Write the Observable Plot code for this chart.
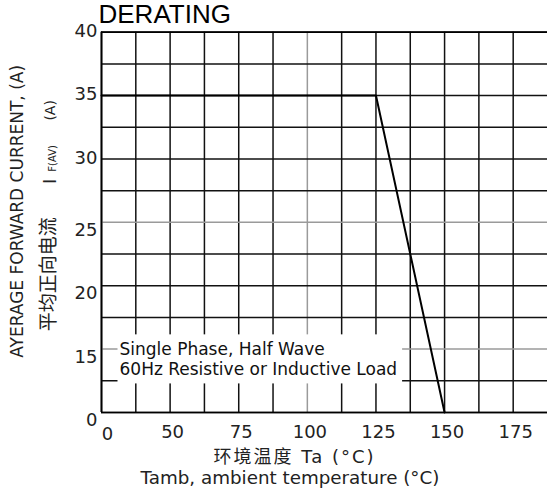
<!DOCTYPE html>
<html>
<head>
<meta charset="utf-8">
<script src="https://cdn.jsdelivr.net/npm/d3@7"></script>
<script src="https://cdn.jsdelivr.net/npm/@observablehq/plot@0.6"></script>
<style>
  html, body { margin: 0; padding: 0; background: #fff; }
  #chart svg { display: block; }
</style>
</head>
<body>
<div id="chart"></div>
<script>
// ---- data ----
const xTicks = [0, 50, 75, 100, 125, 150, 175];
const yTicks = [0, 15, 20, 25, 30, 35, 40];
const xGrid = [0, 25, 50, 62.5, 75, 87.5, 100, 112.5, 125, 137.5, 150, 162.5, 175];
const yGrid = [0, 7.5, 15, 17.5, 20, 22.5, 25, 27.5, 30, 32.5, 35, 37.5, 40];
const lightGridX = [100];
const lightGridY = [15, 25];
const curveTemp = [0, 125, 150];
const curveCurrent = [35, 35, 0];
const titleText = "DERATING";
const noteLines = ["Single Phase, Half Wave", "60Hz Resistive or Inductive Load"];
const noteAtCurrent = 15;
const yTitle1 = "AYERAGE FORWARD CURRENT, (A)";
const yTitleCN = "平均正向电流";
const yTitleSym = "I";
const yTitleSub = "F(AV)";
const yTitleUnit = "(A)";
const xTitleCN = "环境温度 Ta (°C)";
const xTitleEN = "Tamb, ambient temperature (°C)";

// ---- layout ----
const W = 547, H = 492;
const mL = 101, mR = 0, mT = 31.7, mB = 80;
const cellX = (W - mL - mR) / 13;       // 13 grid columns, 2 per tick step
const cellY = (H - mB - mT) / 12;       // 12 grid rows, 2 per tick step
const xRange = xTicks.map((_, i) => mL + 2 * i * cellX);
const yRange = yTicks.map((_, i) => H - mB - 2 * i * cellY);
const sans = "'DejaVu Sans', 'Noto Sans CJK SC', sans-serif";
const cjk = "'Noto Sans CJK SC', 'DejaVu Sans', sans-serif";
const gridColor = "#111";
const lightColor = "#9a9a9a";
const frameCX = (mL + W - mR) / 2;

const svg = Plot.plot({
  width: W,
  height: H,
  marginLeft: mL,
  marginRight: mR,
  marginTop: mT,
  marginBottom: mB,
  style: { background: "#fff", fontFamily: sans, overflow: "visible" },
  x: { type: "linear", domain: xTicks, range: xRange, axis: null },   // piecewise linear
  y: { type: "linear", domain: yTicks, range: yRange, axis: null },
  marks: [
    // grid
    Plot.ruleX(xGrid.filter(v => !lightGridX.includes(v)), { stroke: gridColor, strokeWidth: 1.5 }),
    Plot.ruleX(lightGridX, { stroke: lightColor, strokeWidth: 1.5 }),
    Plot.ruleY(yGrid.filter(v => !lightGridY.includes(v)), { stroke: gridColor, strokeWidth: 1.5 }),
    Plot.ruleY(lightGridY, { stroke: lightColor, strokeWidth: 1.5 }),
    Plot.ruleX([xTicks[0]], { stroke: "#000", strokeWidth: 1.8 }),
    Plot.ruleY([yTicks[0], yTicks[yTicks.length - 1]], { stroke: "#000", strokeWidth: 1.7 }),
    // derating curve
    Plot.line(curveTemp, { x: curveTemp, y: curveCurrent, stroke: "#000", strokeWidth: 2 }),
    // annotation
    Plot.text([noteLines.join("\n")], {
      y: [noteAtCurrent], text: d => d, frameAnchor: "left", dx: 18, dy: -8,
      textAnchor: "start", lineAnchor: "top", lineHeight: 1.18,
      fontSize: 17, fontFamily: sans, fill: "#111"
    }),
    // y tick labels
    Plot.axisY(yTicks.filter(v => v >= 30), {
      anchor: "left", tickSize: 0, tickPadding: 4, fontSize: 18, fontFamily: sans,
      dy: -1, label: null, color: "#222"
    }),
    Plot.axisY(yTicks.filter(v => v < 30), {
      anchor: "left", tickSize: 0, tickPadding: 4, fontSize: 18, fontFamily: sans,
      dy: 8, label: null, color: "#222"
    }),
    // x tick labels
    Plot.axisX(xTicks.filter(v => v > 0), {
      anchor: "bottom", tickSize: 0, tickPadding: 13, fontSize: 18, fontFamily: sans,
      dx: 2.5, label: null, color: "#222"
    }),
    Plot.axisX(xTicks.filter(v => v === 0), {
      anchor: "bottom", tickSize: 0, tickPadding: 14.5, fontSize: 18, fontFamily: sans,
      dx: 6, label: null, color: "#222"
    }),
    // title
    Plot.text([titleText], {
      frameAnchor: "top-left", dx: -3, dy: -9, textAnchor: "start", lineAnchor: "bottom",
      fontSize: 26, fontFamily: "'Liberation Sans', Arial, sans-serif", fill: "#000"
    }),
    // y axis titles
    Plot.text([yTitle1], {
      frameAnchor: "left", dx: 17 - mL, dy: -11, rotate: -90, textAnchor: "middle",
      lineAnchor: "middle", fontSize: 17, fontFamily: sans, fill: "#222"
    }),
    Plot.text([yTitleCN], {
      frameAnchor: "left", dx: 48.5 - mL, dy: 52, rotate: -90, textAnchor: "middle",
      lineAnchor: "middle", fontSize: 19, fontFamily: cjk, fill: "#222"
    }),
    Plot.text([yTitleSym], {
      frameAnchor: "left", dx: 50 - mL, dy: -41, rotate: -90, textAnchor: "middle",
      lineAnchor: "middle", fontSize: 18, fontFamily: sans, fill: "#222"
    }),
    Plot.text([yTitleSub], {
      frameAnchor: "left", dx: 52 - mL, dy: -64, rotate: -90, textAnchor: "middle",
      lineAnchor: "middle", fontSize: 10, fontFamily: sans, fill: "#222"
    }),
    Plot.text([yTitleUnit], {
      frameAnchor: "left", dx: 50.5 - mL, dy: -112, rotate: -90, textAnchor: "middle",
      lineAnchor: "middle", fontSize: 14, fontFamily: sans, fill: "#222"
    }),
    // x axis titles
    Plot.text([xTitleCN], {
      frameAnchor: "bottom", dx: 294 - frameCX, dy: 44.5, textAnchor: "middle", lineAnchor: "middle",
      fontSize: 18, fontFamily: sans, fill: "#222"
    }),
    Plot.text([xTitleEN], {
      frameAnchor: "bottom", dx: 289.5 - frameCX, dy: 71.3, textAnchor: "middle", lineAnchor: "bottom",
      fontSize: 18.3, fontFamily: sans, fill: "#222"
    })
  ]
});

document.getElementById("chart").append(svg);

// white box behind the annotation, sized from the rendered text
(function () {
  const texts = Array.from(svg.querySelectorAll("text"));
  const note = texts.find(t => t.textContent.includes(noteLines[0]));
  if (note) {
    const s = svg.getBoundingClientRect();
    const b = note.getBoundingClientRect();
    const r = document.createElementNS("http://www.w3.org/2000/svg", "rect");
    r.setAttribute("x", b.left - s.left - 2);
    r.setAttribute("y", b.top - s.top - 5);
    r.setAttribute("width", b.width + 7);
    r.setAttribute("height", b.height + 9);
    r.setAttribute("fill", "#fff");
    const g = note.closest("g") || note.parentNode;
    g.parentNode.insertBefore(r, g);
  }
  const cn = texts.find(t => t.textContent === xTitleCN);
  if (cn) cn.setAttribute("letter-spacing", "2");
})();
</script>
</body>
</html>
